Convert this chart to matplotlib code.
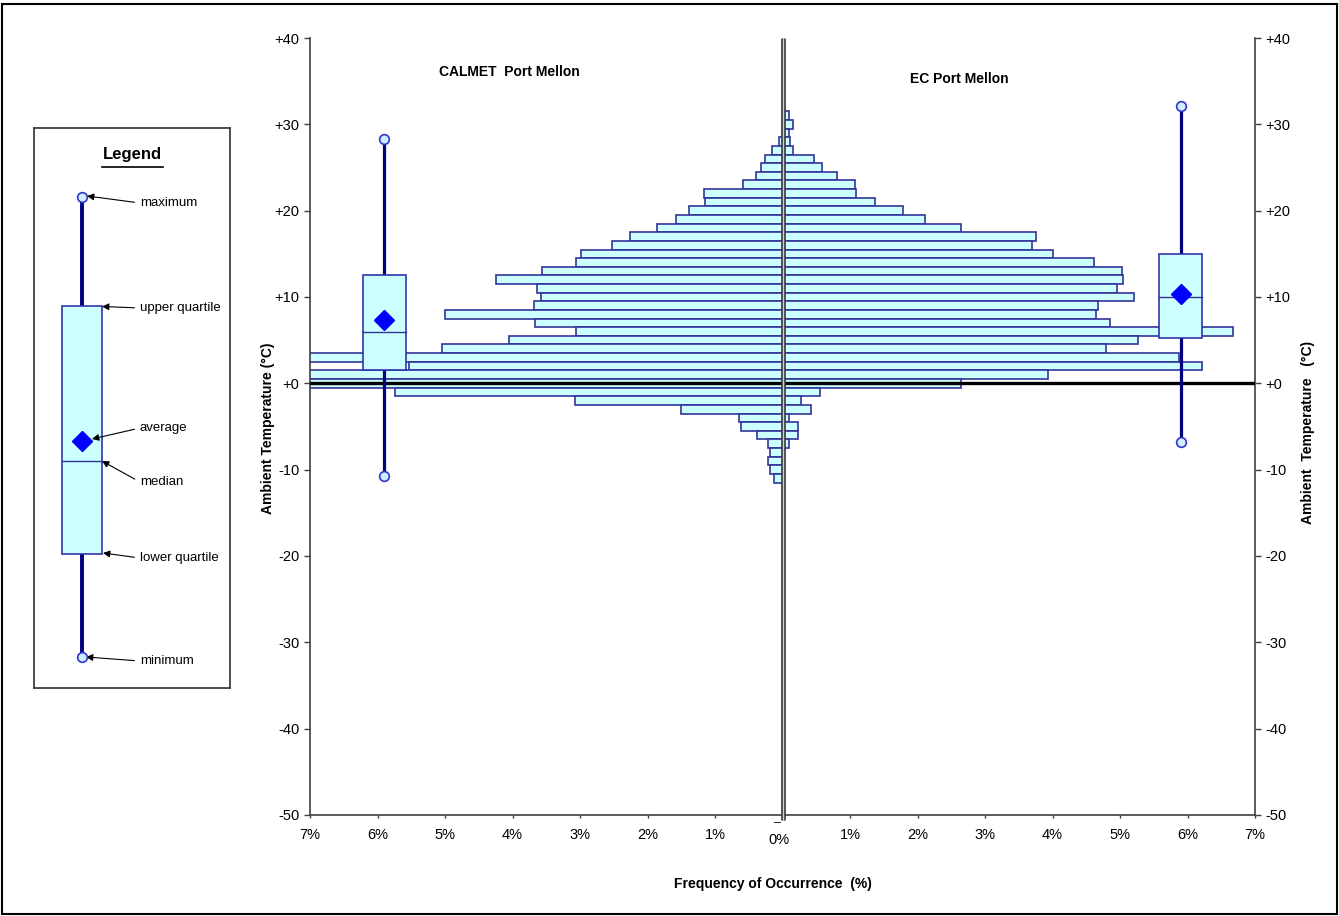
import matplotlib
matplotlib.use('Agg')
import matplotlib.pyplot as plt
from matplotlib.patches import Rectangle
import numpy as np

plt.rcParams['font.family'] = ['Liberation Sans', 'DejaVu Sans']

# temperature bins (deg C), frequency of occurrence (%)
temps = list(range(31, -12, -1))
calmet = [0.0, 0.0, 0.0, 0.05, 0.15, 0.26, 0.32, 0.40, 0.58, 1.16,
          1.15, 1.38, 1.58, 1.86, 2.26, 2.53, 2.98, 3.06, 3.56, 4.24,
          3.64, 3.58, 3.68, 5.00, 3.67, 3.06, 4.05, 5.04, 7.40, 5.53,
          7.60, 7.30, 5.74, 3.08, 1.51, 0.64, 0.61, 0.38, 0.22, 0.19,
          0.22, 0.19, 0.13]
ec = [0.10, 0.15, 0.09, 0.11, 0.15, 0.47, 0.59, 0.81, 1.08, 1.09,
      1.37, 1.79, 2.11, 2.65, 3.75, 3.70, 4.01, 4.61, 5.03, 5.05,
      4.95, 5.21, 4.67, 4.65, 4.85, 6.67, 5.27, 4.79, 5.87, 6.21,
      3.93, 2.65, 0.56, 0.27, 0.42, 0.10, 0.23, 0.23, 0.10, 0.0,
      0.0, 0.0, 0.0]

# box stats: min, lower quartile, median, average, upper quartile, max
calmet_box = [-10.7, 1.6, 5.9, 7.3, 12.5, 28.3]
ec_box = [-6.8, 5.2, 10.0, 10.4, 15.0, 32.1]

yticks = list(range(-50, 41, 10))
xticks = list(range(-7, 8))

# schematic values for the legend drawing
legend_demo = [31.5, 134, 227.5, 247, 382.5, 491.5]
legend_labels = ['minimum', 'lower quartile', 'median', 'average', 'upper quartile', 'maximum']

W, H = 1339, 916
fig = plt.figure(figsize=(W / 100, H / 100), dpi=100)
fig.patches.append(Rectangle((2 / W, 2 / H), 1 - 4 / W, 1 - 6 / H, transform=fig.transFigure,
                             fill=False, ec='black', lw=1.5))

fill = '#CCFFFF'
edge = '#333399'
navy = '#000080'
axcol = '#404040'

ax = fig.add_axes([310 / W, 1 - 815 / H, 945 / W, 777 / H])
ax.barh(temps, [-v for v in calmet], height=1.0, color=fill, edgecolor=edge, lw=1.2, zorder=2)
ax.barh(temps, ec, height=1.0, color=fill, edgecolor=edge, lw=1.2, zorder=2)

ax.set_xlim(-7, 7)
ax.set_ylim(-50, 40)

ax.axhline(0, color='black', lw=2.4, zorder=5)
ax.plot([0, 0], [-50.6, 40], color='#3a3a3a', lw=3.4, clip_on=False, zorder=6, solid_capstyle='butt')
ax.plot([0, 0], [-50.6, 40], color='#d0d0d0', lw=1.0, clip_on=False, zorder=6, solid_capstyle='butt')

box_x = 5.9
box_w = 0.64
for stats, x in ((calmet_box, -box_x), (ec_box, box_x)):
    lo, q1, med, mean, q3, hi = stats
    ax.plot([x, x], [q3, hi], color=navy, lw=2.3, zorder=6)
    ax.plot([x, x], [lo, q1], color=navy, lw=2.3, zorder=6)
    ax.add_patch(Rectangle((x - box_w / 2, q1), box_w, q3 - q1, fc=fill, ec='#3333AA', lw=1.2, zorder=7))
    ax.plot([x - box_w / 2, x + box_w / 2], [med, med], color=edge, lw=1.0, zorder=8)
    ax.plot(x, mean, 'D', color='#0000FF', ms=10, zorder=9)
    ax.plot([x, x], [lo, hi], 'o', mfc='#CCECFF', mec='#3333CC', ms=7, mew=1.2, zorder=9, lw=0)

ax.spines['top'].set_visible(False)
for s in ('left', 'right', 'bottom'):
    ax.spines[s].set_color(axcol)
    ax.spines[s].set_linewidth(1.2)

ax.set_yticks(yticks)
ax.set_yticklabels(['+%d' % v if v >= 0 else str(v) for v in yticks])
ax.tick_params(axis='y', which='both', left=True, right=True, labelleft=True, labelright=True,
               direction='out', length=4.5, width=1.0, color=axcol, pad=3, labelsize=10.5)
ax.set_xticks(xticks)
ax.set_xticklabels(['%d%%' % abs(v) if v != 0 else '' for v in xticks])
ax.tick_params(axis='x', direction='out', length=2.5, width=1.0, color=axcol, pad=7, labelsize=10.5)

fig.text(509 / W, 1 - 72 / H, 'CALMET  Port Mellon', fontsize=10, fontweight='bold', ha='center', va='center')
fig.text(959 / W, 1 - 79 / H, 'EC Port Mellon', fontsize=10, fontweight='bold', ha='center', va='center')
fig.text(777 / W, 1 - 823 / H, '–', fontsize=9, ha='center', va='center')
fig.text(779 / W, 1 - 840 / H, '0%', fontsize=10.5, ha='center', va='center')
fig.text(773 / W, 1 - 884 / H, 'Frequency of Occurrence  (%)', fontsize=10, fontweight='bold',
         ha='center', va='center')
fig.text(268 / W, 1 - 428 / H, 'Ambient Temperature (°C)', fontsize=10, fontweight='bold',
         rotation=90, ha='center', va='center')
fig.text(1308 / W, 1 - 432 / H, 'Ambient  Temperature   (°C)', fontsize=10, fontweight='bold',
         rotation=90, ha='center', va='center')

# legend panel
lax = fig.add_axes([34 / W, 1 - 688 / H, 196 / W, 560 / H])
lax.set_xlim(0, 196)
lax.set_ylim(0, 560)
lax.set_xticks([])
lax.set_yticks([])
for s in lax.spines.values():
    s.set_color(axcol)
    s.set_linewidth(1.3)

lo, q1, med, mean, q3, hi = legend_demo
lx = 48
lax.plot([lx, lx], [q3, hi], color=navy, lw=2.8, zorder=2)
lax.plot([lx, lx], [lo, q1], color=navy, lw=2.8, zorder=2)
lax.add_patch(Rectangle((lx - 20, q1), 40, q3 - q1, fc=fill, ec='#3333AA', lw=1.2, zorder=3))
lax.plot([lx - 20, lx + 20], [med, med], color=edge, lw=1.0, zorder=4)
lax.plot(lx, mean, 'D', color='#0000FF', ms=10, zorder=5)
lax.plot([lx, lx], [lo, hi], 'o', mfc='#CCECFF', mec='#3333CC', ms=7, mew=1.2, lw=0, zorder=5)

lax.text(98, 533, 'Legend', fontsize=12, fontweight='bold', ha='center', va='center')
lax.plot([68, 129], [521, 521], color='black', lw=1.2)

heads = [(52, 31), (69, 135), (68, 227), (58, 249), (68, 381.5), (53, 492)]
text_y = [27, 130, 206, 260, 380, 485]
for lab, hxy, ty in zip(legend_labels, heads, text_y):
    lax.annotate(lab, xy=hxy, xytext=(106, ty), fontsize=9.5, ha='left', va='center',
                 arrowprops=dict(arrowstyle='-|>', color='black', lw=0.8, shrinkA=2, shrinkB=0,
                                 mutation_scale=10, relpos=(0, 0.5)))

fig.savefig('out.png', dpi=100)
